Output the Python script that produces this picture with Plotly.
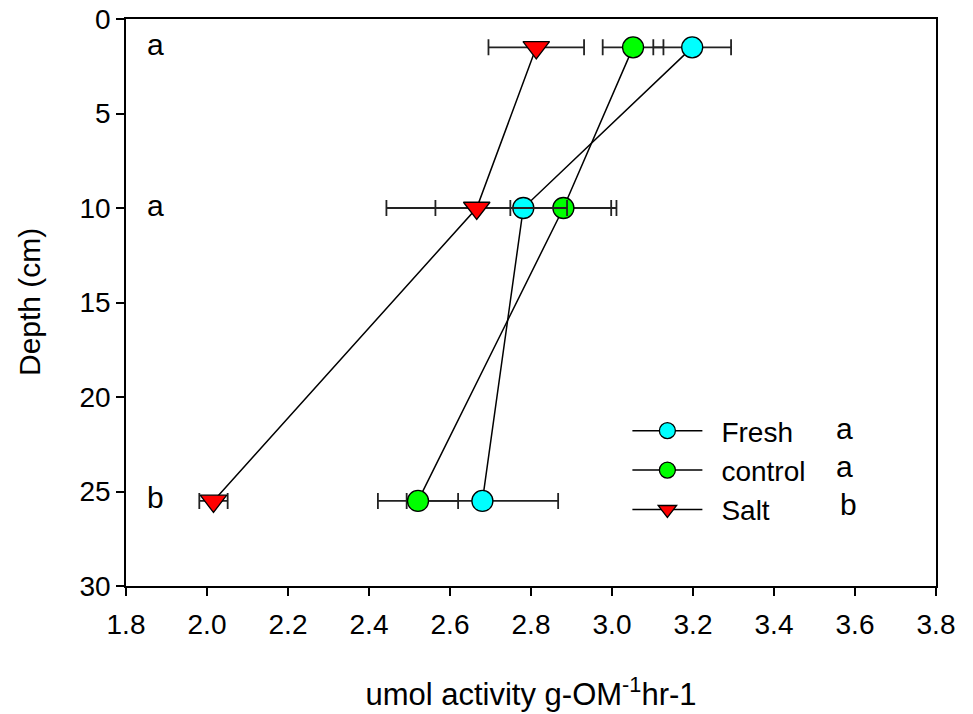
import plotly.graph_objects as go

# Enzyme activity by depth for three treatments
depth = [1.5, 10.0, 25.5]

fresh = [3.198, 2.781, 2.680]
fresh_err = [0.096, 0.217, 0.187]

control = [3.052, 2.880, 2.521]
control_err = [0.075, 0.131, 0.099]

salt = [2.813, 2.666, 2.016]
salt_err = [0.118, 0.223, 0.035]

# Significance letters for each depth and for each treatment
depth_letters = ["a", "a", "b"]
treatment_letters = ["a", "a", "b"]

x_ticks = [1.8, 2.0, 2.2, 2.4, 2.6, 2.8, 3.0, 3.2, 3.4, 3.6, 3.8]
y_ticks = [0, 5, 10, 15, 20, 25, 30]

FONT = "Liberation Sans, Arial, sans-serif"

series = [
    ("Fresh", fresh, fresh_err, "#00ffff", "circle", 21),
    ("control", control, control_err, "#00ff00", "circle", 21),
    ("Salt", salt, salt_err, "#ff0000", "triangle-down", 23),
]

fig = go.Figure()
for name, vals, err, color, symbol, size in series:
    fig.add_trace(go.Scatter(
        x=vals, y=depth, name="\u2002" + name, mode="lines+markers",
        line=dict(color="black", width=1.5),
        marker=dict(color=color, symbol=symbol, size=size,
                    line=dict(color="black", width=1.3)),
        error_x=dict(type="data", array=err, visible=True,
                     color="#222222", thickness=1.8, width=8),
    ))

# letters beside each depth
for d, letter in zip(depth, depth_letters):
    fig.add_annotation(x=1.872, y=d, text=letter, showarrow=False,
                       xanchor="center", yanchor="middle", yshift=3,
                       font=dict(family=FONT, size=30, color="black"))

fig.update_layout(
    width=973, height=714,
    margin=dict(l=126, r=37, t=19, b=128),
    paper_bgcolor="white", plot_bgcolor="white",
    font=dict(family=FONT, size=28, color="black"),
    showlegend=True,
    legend=dict(x=0.619, y=0.3175, xanchor="left", yanchor="top",
                bgcolor="rgba(0,0,0,0)", borderwidth=0,
                font=dict(family=FONT, size=28),
                itemwidth=70, tracegroupgap=0),
)

fig.update_xaxes(
    range=[1.8, 3.8], tickvals=x_ticks,
    ticktext=[f"{v:.1f}" for v in x_ticks],
    showline=True, linecolor="black", linewidth=1.5, mirror=True,
    ticks="outside", ticklen=8, tickwidth=1.5, tickcolor="black",
    ticklabelstandoff=5, automargin=False,
    showgrid=False, zeroline=False,
    title=dict(text="umol activity g-OM<sup>-1</sup>hr-1",
               font=dict(family=FONT, size=31), standoff=44),
)
fig.update_yaxes(
    range=[30, 0], tickvals=y_ticks,
    showline=True, linecolor="black", linewidth=1.5, mirror=True,
    ticks="outside", ticklen=8, tickwidth=1.5, tickcolor="black",
    automargin=False,
    showgrid=False, zeroline=False,
)

# vertical axis title, placed close to the left edge
fig.add_annotation(x=-0.1191, y=0.5, xref="paper", yref="paper",
                   text="Depth (cm)", textangle=-90, showarrow=False,
                   xanchor="center", yanchor="middle", borderpad=0,
                   font=dict(family=FONT, size=30, color="black"))

# treatment letters next to the legend entries
legend_rows = [0.2769, 0.2099, 0.1429]
for yp, letter in zip(legend_rows, treatment_letters):
    fig.add_annotation(x=0.887 if letter == "a" else 0.892, y=yp,
                       xref="paper", yref="paper", text=letter,
                       showarrow=False, xanchor="center", yanchor="middle",
                       font=dict(family=FONT, size=30, color="black"))

fig.write_html("out.html")
